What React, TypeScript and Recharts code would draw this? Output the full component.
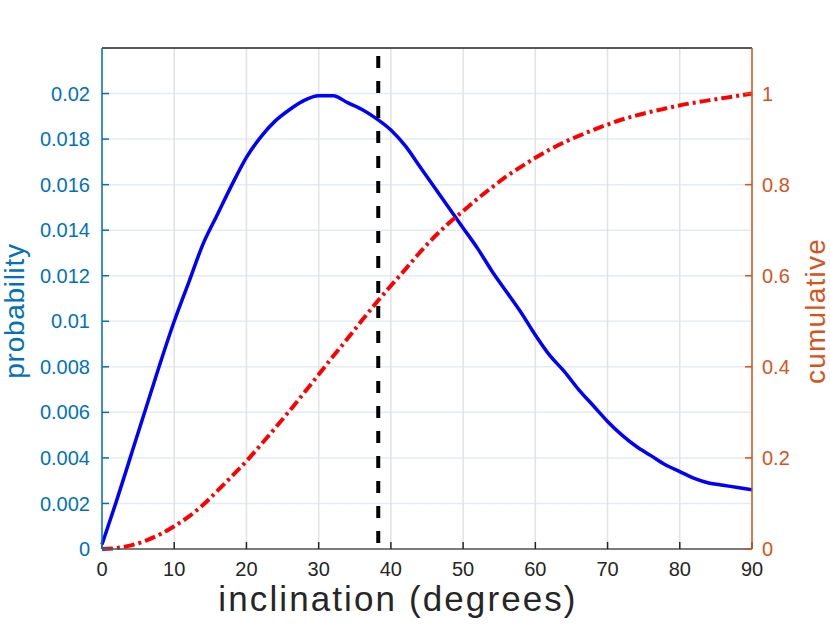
import React from 'react';
import { ComposedChart, Line, XAxis, YAxis, CartesianGrid, ReferenceLine } from 'recharts';

const inclination = [0, 2, 4, 6, 8, 10, 12, 14, 16, 18, 20, 22, 24, 26, 28, 30, 32, 34, 36, 38, 40, 42, 44, 46, 48, 50, 52, 54, 56, 58, 60, 62, 64, 66, 68, 70, 72, 74, 76, 78, 80, 82, 84, 86, 88, 90];
const probability = [0.0002, 0.0021, 0.0041, 0.0061, 0.0081, 0.0100, 0.0117, 0.0134, 0.0147, 0.0160, 0.0172, 0.0181, 0.0188, 0.0193, 0.0197, 0.0199, 0.0199, 0.0196, 0.0193, 0.0189, 0.0184, 0.0177, 0.0168, 0.0159, 0.0150, 0.0141, 0.0132, 0.0122, 0.0113, 0.0104, 0.0094, 0.0085, 0.0078, 0.0070, 0.0063, 0.0056, 0.0050, 0.0045, 0.0041, 0.0037, 0.0034, 0.0031, 0.0029, 0.0028, 0.0027, 0.0026];
const cumulative = [0, 0.002, 0.008, 0.018, 0.032, 0.050, 0.071, 0.097, 0.128, 0.160, 0.193, 0.229, 0.266, 0.304, 0.343, 0.383, 0.423, 0.462, 0.502, 0.541, 0.578, 0.614, 0.651, 0.685, 0.715, 0.742, 0.769, 0.794, 0.818, 0.839, 0.859, 0.877, 0.893, 0.907, 0.920, 0.932, 0.943, 0.952, 0.960, 0.967, 0.974, 0.980, 0.985, 0.990, 0.995, 1.0];
const xTicks = [0, 10, 20, 30, 40, 50, 60, 70, 80, 90];
const probTicks = [0, 0.002, 0.004, 0.006, 0.008, 0.01, 0.012, 0.014, 0.016, 0.018, 0.02];
const cumTicks = [0, 0.2, 0.4, 0.6, 0.8, 1];
const medianInclination = 38.25;

const rows = inclination.map((d, i) => ({ deg: d, prob: probability[i], cum: cumulative[i] }));

const FONT = '"Liberation Sans", Arial, Helvetica, sans-serif';
const BLUE_AX = '#0072BD';
const ORANGE_AX = '#D95319';
const DARK = '#262626';

const XTitle = () => (
  <text x={398} y={611} textAnchor="middle" fontFamily={FONT} fontSize={35} letterSpacing={2.1} fill={DARK}>
    inclination (degrees)
  </text>
);
const LeftTitle = () => (
  <text x={24} y={311} transform="rotate(-90, 24, 311)" textAnchor="middle" fontFamily={FONT} fontSize={28} letterSpacing={0.7} fill={BLUE_AX}>
    probability
  </text>
);
const RightTitle = () => (
  <text x={825} y={311} transform="rotate(-90, 825, 311)" textAnchor="middle" fontFamily={FONT} fontSize={28} letterSpacing={1.2} fill={ORANGE_AX}>
    cumulative
  </text>
);

export default function App() {
  return (
    <div style={{ position: 'absolute', left: 0, top: 0, width: 830, height: 633, background: '#fff' }}>
      <ComposedChart width={830} height={633} data={rows} margin={{ top: 18, right: 18, bottom: 44, left: 42 }}>
        <CartesianGrid xAxisId="bottom" yAxisId="left" vertical={false} stroke="#e1ecf5" strokeWidth={1.5} />
        <CartesianGrid xAxisId="bottom" yAxisId="left" horizontal={false} stroke="#e2e2e2" strokeWidth={1.5} />
        <XAxis
          xAxisId="top"
          orientation="top"
          type="number"
          dataKey="deg"
          domain={[0, 90]}
          ticks={xTicks}
          height={30}
          tick={false}
          tickSize={-7}
          stroke={DARK}
          axisLine={{ stroke: DARK, strokeWidth: 1.5 }}
          tickLine={{ stroke: DARK, strokeWidth: 1.5 }}
        />
        <XAxis
          xAxisId="bottom"
          type="number"
          dataKey="deg"
          domain={[0, 90]}
          ticks={xTicks}
          height={40}
          tickSize={-7}
          tickMargin={20}
          interval={0}
          axisLine={{ stroke: '#555555', strokeWidth: 1.5 }}
          tickLine={{ stroke: DARK, strokeWidth: 1.5 }}
          tick={{ fill: DARK, fontSize: 20, fontFamily: FONT }}
          label={<XTitle />}
        />
        <YAxis
          yAxisId="left"
          type="number"
          domain={[0, 0.022]}
          ticks={probTicks}
          width={60}
          tickSize={-7}
          tickMargin={19}
          interval={0}
          tickFormatter={(v) => String(v)}
          axisLine={{ stroke: BLUE_AX, strokeWidth: 1.5 }}
          tickLine={{ stroke: BLUE_AX, strokeWidth: 1.5 }}
          tick={{ fill: BLUE_AX, fontSize: 20, fontFamily: FONT }}
          label={<LeftTitle />}
        />
        <YAxis
          yAxisId="right"
          orientation="right"
          type="number"
          domain={[0, 1.1]}
          ticks={cumTicks}
          width={60}
          tickSize={-7}
          tickMargin={17}
          interval={0}
          tickFormatter={(v) => String(v)}
          axisLine={{ stroke: ORANGE_AX, strokeWidth: 1.5 }}
          tickLine={{ stroke: ORANGE_AX, strokeWidth: 1.5 }}
          tick={{ fill: ORANGE_AX, fontSize: 20, fontFamily: FONT }}
          label={<RightTitle />}
        />
        <Line
          xAxisId="bottom"
          yAxisId="left"
          type="monotone"
          dataKey="prob"
          stroke="#0000FF"
          strokeWidth={3.5}
          dot={false}
          activeDot={false}
          isAnimationActive={false}
        />
        <Line
          xAxisId="bottom"
          yAxisId="right"
          type="monotone"
          dataKey="cum"
          stroke="#FF0000"
          strokeWidth={4}
          strokeDasharray="11 4 3 4"
          dot={false}
          activeDot={false}
          isAnimationActive={false}
        />
        <ReferenceLine
          xAxisId="bottom"
          yAxisId="left"
          x={medianInclination}
          stroke="#000000"
          strokeWidth={4}
          strokeDasharray="12 13"
          strokeDashoffset={-6}
          ifOverflow="visible"
        />
      </ComposedChart>
    </div>
  );
}
